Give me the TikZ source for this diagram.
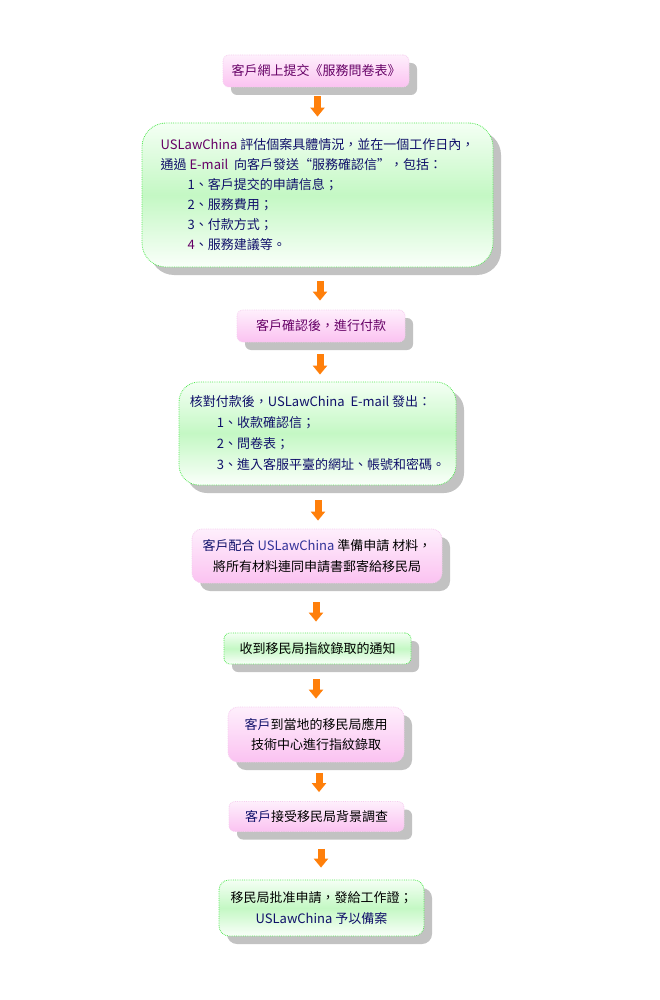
\documentclass[tikz,border=0pt]{standalone}
\usepackage{fontspec}
\setmainfont{Noto Sans CJK TC}
\usetikzlibrary{arrows.meta,shadows,calc}
\definecolor{pinktop}{HTML}{FEEFFC}
\definecolor{pinkbot}{HTML}{FBC2F1}
\definecolor{pinkline}{HTML}{F6CDEF}
\definecolor{greentop}{HTML}{F4FFF4}
\definecolor{greenmid}{HTML}{C4F8C4}
\definecolor{greenbot}{HTML}{FAFFFA}
\definecolor{greenline}{HTML}{55E855}
\definecolor{shadowgray}{HTML}{C2C2C2}
\definecolor{arroworange}{HTML}{FF7F0A}
\definecolor{lpurple}{HTML}{660066}
\definecolor{navy}{HTML}{10106A}
\definecolor{bluish}{HTML}{333399}
\begin{document}
\begin{tikzpicture}[x=1pt,y=-1pt,
  basebox/.style={inner sep=0pt, align=left, line width=0.8pt, densely dotted,
    drop shadow={shadow xshift=8pt,shadow yshift=-8pt,fill=shadowgray,opacity=1}},
  pinkbox/.style={basebox, draw=pinkline, top color=pinktop, bottom color=pinkbot},
  greenbox/.style={basebox, draw=greenline, top color=greentop, bottom color=greenbot, middle color=greenmid},
  txt/.style={font=\fontsize{13}{#1}\selectfont},
  blk/.style={draw=arroworange, line width=7pt, -{Triangle[width=14pt,length=9pt]}}
]
\fill[white] (0,0) rectangle (660,1000);
\useasboundingbox (0,0) rectangle (660,1000);

\node[pinkbox, rounded corners=6pt, minimum width=186pt, minimum height=32pt, txt=20, text=lpurple]
  (b1) at (316,71) {客戶網上提交《服務問卷表》};

\node[greenbox, rounded corners=24pt, minimum width=351pt, minimum height=144pt, txt=20, text=navy]
  (b2) at (317.5,195) {\textcolor{lpurple}{USLawChina} 評估個案具體情況，並在一個工作日內，\\
通過 \textcolor{lpurple}{E-mail}~~向客戶發送“服務確認信”，包括：\\
\hspace*{27pt}1、客戶提交的申請信息；\\
\hspace*{27pt}2、服務費用；\\
\hspace*{27pt}3、付款方式；\\
\hspace*{27pt}\textcolor{lpurple}{4}、服務建議等。};

\node[pinkbox, rounded corners=6pt, minimum width=168pt, minimum height=32pt, txt=20, text=lpurple]
  (b3) at (321,326) {客戶確認後，進行付款};

\node[greenbox, rounded corners=20pt, minimum width=277pt, minimum height=103pt, txt=21, text=navy]
  (b4) at (317.5,433.5) {核對付款後，USLawChina~~E-mail 發出：\\
\hspace*{27pt}1、收款確認信；\\
\hspace*{27pt}2、問卷表；\\
\hspace*{27pt}3、進入客服平臺的網址、帳號和密碼。};

\node[pinkbox, rounded corners=10pt, minimum width=250pt, minimum height=54pt, txt=21, text=black, align=center]
  (b5) at (317,556) {\textcolor{navy}{客戶配合} \textcolor{bluish}{USLawChina} 準備申請 材料，\\將所有材料連同申請書郵寄給移民局};

\node[greenbox, rounded corners=6pt, minimum width=187pt, minimum height=31pt, txt=20, text=black]
  (b6) at (317.5,648.5) {收到移民局指紋錄取的通知};

\node[pinkbox, rounded corners=10pt, minimum width=176pt, minimum height=55pt, txt=20, text=black, align=center]
  (b7) at (316,734.5) {\textcolor{navy}{客戶}到當地的移民局應用\\技術中心進行指紋錄取};

\node[pinkbox, rounded corners=6pt, minimum width=175pt, minimum height=30pt, txt=20, text=black]
  (b8) at (316.5,816.5) {\textcolor{navy}{客戶}接受移民局背景調查};

\node[greenbox, rounded corners=10pt, minimum width=205pt, minimum height=56pt, txt=21, text=black, align=center]
  (b9) at (321.5,908) {移民局批准申請，發給工作證；\\\textcolor{navy}{USLawChina 予以備案}};

\draw[blk] ($(b1.south)+(1.5pt,-9pt)$) -- ($(b1.south|-b2.north)+(1.5pt,6pt)$);
\draw[blk] ($(b3.north|-b2.south)+(-1pt,-14pt)$) -- ($(b3.north)+(-1pt,9pt)$);
\draw[blk] ($(b3.south)+(-1pt,-12pt)$) -- ($(b3.south|-b4.north)+(-1pt,7pt)$);
\draw[blk] ($(b4.south)+(0.5pt,-15pt)$) -- ($(b4.south|-b5.north)+(0.5pt,8pt)$);
\draw[blk] ($(b5.south)+(-1pt,-19pt)$) -- ($(b5.south|-b6.north)+(-1pt,11pt)$);
\draw[blk] ($(b7.north|-b6.south)+(0pt,-15pt)$) -- ($(b7.north)+(0pt,8pt)$);
\draw[blk] ($(b8.north|-b7.south)+(2.5pt,-11pt)$) -- ($(b8.north)+(2.5pt,9pt)$);
\draw[blk] ($(b9.north|-b8.south)+(-0.5pt,-17pt)$) -- ($(b9.north)+(-0.5pt,12pt)$);
\end{tikzpicture}
\end{document}
